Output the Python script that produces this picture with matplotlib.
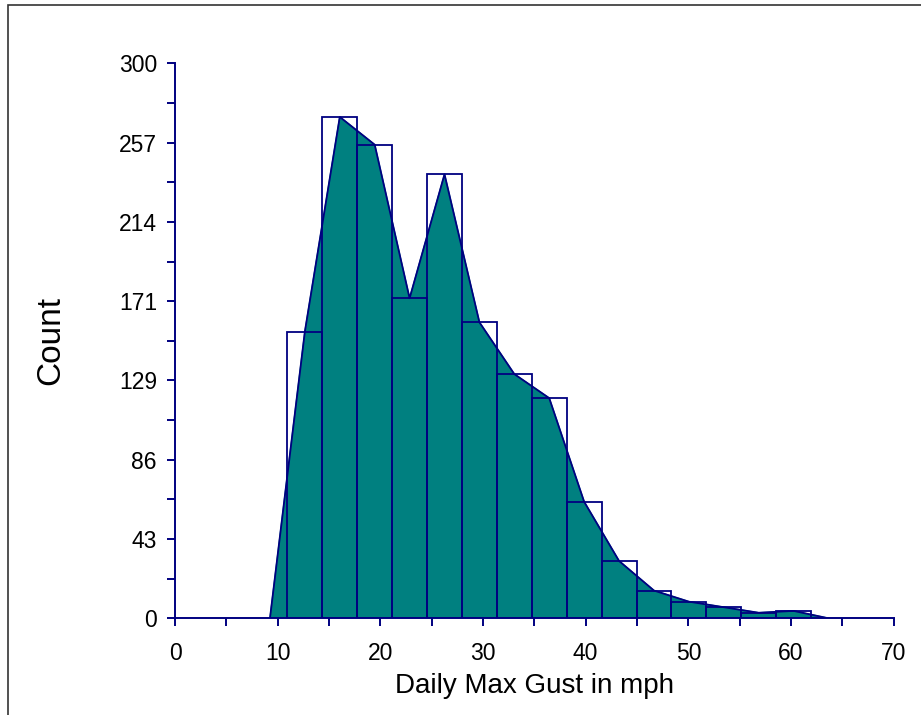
import numpy as np
import matplotlib
matplotlib.use("Agg")
import matplotlib.pyplot as plt
from matplotlib.patches import Rectangle

# histogram of daily max gust (mph)
bin_start = 10.95
bin_width = 3.4
counts = [155, 271, 256, 173, 240, 160, 132, 119, 63, 31, 15, 9, 6, 3, 4]

y_ticks = [300 * k / 7 for k in range(8)]
y_labels = ["0", "43", "86", "129", "171", "214", "257", "300"]
x_ticks = [0, 10, 20, 30, 40, 50, 60, 70]

NAVY = "#000080"
TEAL = "#008080"

plt.rcParams["font.family"] = ["Liberation Sans", "DejaVu Sans"]

edges = bin_start + bin_width * np.arange(len(counts) + 1)
mids = (edges[:-1] + edges[1:]) / 2
poly_x = np.concatenate([[mids[0] - bin_width], mids, [mids[-1] + bin_width]])
poly_y = np.concatenate([[0], counts, [0]])

fig = plt.figure(figsize=(9.21, 7.15), dpi=100)
ax = fig.add_axes([175 / 921, (715 - 618.3) / 715, 718.7 / 921, 555 / 715])

ax.fill(poly_x, poly_y, color=TEAL, zorder=2)
ax.bar(edges[:-1], counts, width=bin_width, align="edge", fill=False,
       edgecolor=NAVY, linewidth=1.3, zorder=3)
ax.plot(poly_x, poly_y, color=NAVY, linewidth=1.3, zorder=4)

ax.set_xlim(0, 70)
ax.set_ylim(0, 300)
for side in ("top", "right"):
    ax.spines[side].set_visible(False)
for side in ("left", "bottom"):
    ax.spines[side].set_color(NAVY)
    ax.spines[side].set_linewidth(1.4)

ax.set_yticks(y_ticks)
ax.set_yticklabels(y_labels)
ax.set_yticks([300 * (2 * k + 1) / 14 for k in range(7)], minor=True)
ax.set_xticks(x_ticks)
ax.set_xticks([5, 15, 25, 35, 45, 55, 65], minor=True)
ax.tick_params(which="both", direction="out", length=6, width=1.4, color=NAVY,
               labelsize=16.5, labelcolor="black")
ax.tick_params(axis="y", pad=7)
ax.tick_params(axis="x", pad=11)

ax.set_xlabel("Daily Max Gust in mph", fontsize=20, labelpad=6)
ax.set_ylabel("Count", fontsize=24, labelpad=38)

fig.add_artist(Rectangle((8 / 921, -0.1), 1.0, 1.1 - 5.5 / 715, fill=False,
                         edgecolor="#333333", linewidth=1.2,
                         transform=fig.transFigure))

fig.savefig("out.png", dpi=100)
